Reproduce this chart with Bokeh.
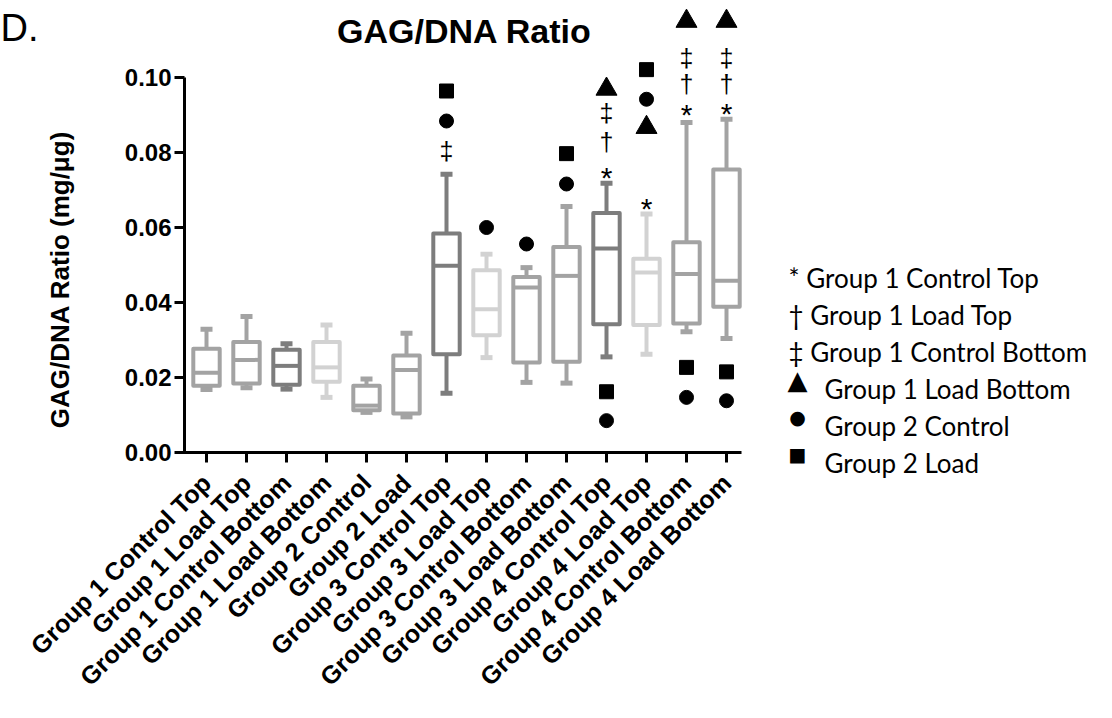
import math
from bokeh.plotting import figure
from bokeh.models import FixedTicker, Label, ColumnDataSource
from bokeh.transform import dodge
from bokeh.core.properties import value
from bokeh.embed import file_html
from bokeh.resources import INLINE

# ---------------- data ----------------
categories = ["Group 1 Control Top", "Group 1 Load Top", "Group 1 Control Bottom",
              "Group 1 Load Bottom", "Group 2 Control", "Group 2 Load",
              "Group 3 Control Top", "Group 3 Load Top", "Group 3 Control Bottom",
              "Group 3 Load Bottom", "Group 4 Control Top", "Group 4 Load Top",
              "Group 4 Control Bottom", "Group 4 Load Bottom"]
whisker_low = [0.0168, 0.0173, 0.0169, 0.0147, 0.0107, 0.0095, 0.0158,
               0.0253, 0.0187, 0.0185, 0.0255, 0.0262, 0.0322, 0.0304]
q1 = [0.0178, 0.0184, 0.0181, 0.0189, 0.0113, 0.0104, 0.0262,
      0.0313, 0.0240, 0.0242, 0.0342, 0.0340, 0.0344, 0.0389]
median = [0.0213, 0.0247, 0.0231, 0.0227, 0.0125, 0.0220, 0.0498,
          0.0382, 0.0440, 0.0471, 0.0544, 0.0480, 0.0476, 0.0458]
q3 = [0.0277, 0.0295, 0.0274, 0.0295, 0.0178, 0.0259, 0.0584,
      0.0486, 0.0468, 0.0548, 0.0639, 0.0517, 0.0561, 0.0755]
whisker_high = [0.0329, 0.0363, 0.0290, 0.0340, 0.0196, 0.0318, 0.0742,
                0.0529, 0.0493, 0.0656, 0.0718, 0.0636, 0.0880, 0.0889]
shade = ["mid", "mid", "dark", "light", "mid", "mid", "dark",
         "light", "mid", "mid", "dark", "light", "mid", "mid"]
shade_colors = {"dark": "#7d7d7d", "mid": "#a3a3a3", "light": "#d2d2d2"}

# significance markers (category number, value)
star_cat = [11, 12, 13, 14]
star_val = [0.0754, 0.0671, 0.0922, 0.0925]
dagger_cat = [11, 13, 14]
dagger_val = [0.0831, 0.0986, 0.0986]
ddagger_cat = [7, 11, 13, 14]
ddagger_val = [0.0806, 0.0907, 0.1056, 0.1056]
tri_cat = [11, 12, 13, 14]
tri_val = [0.0969, 0.0867, 0.1150, 0.1150]
circ_cat = [7, 8, 9, 10, 11, 12, 13, 14]
circ_val = [0.0884, 0.0600, 0.0556, 0.0716, 0.0085, 0.0942, 0.0147, 0.0138]
sq_cat = [7, 10, 11, 12, 13, 14]
sq_val = [0.0964, 0.0797, 0.0162, 0.1021, 0.0227, 0.0215]

y_ticks = [0.0, 0.02, 0.04, 0.06, 0.08, 0.10]
y_tick_labels = ["0.00", "0.02", "0.04", "0.06", "0.08", "0.10"]

legend_texts = ["* Group 1 Control Top", "\u2020 Group 1 Load Top",
                "\u2021 Group 1 Control Bottom", "Group 1 Load Bottom",
                "Group 2 Control", "Group 2 Load"]
legend_icons = ["", "", "", "\u25B2", "\u25CF", "\u25A0"]

# ---------------- layout (canvas pixels) ----------------
W, H = 1096, 702
AXIS_X_PX = 184.0     # y-axis line
AXIS_END_PX = 741.0   # right end of x-axis line
ZERO_PY = 452.0       # y = 0
PX_PER_CAT = 40.0
PX_PER_UNIT = 3750.0
FIRST_CAT_PX = 206.0


def X(px):  # canvas px -> data x
    return 1 + (px - FIRST_CAT_PX) / PX_PER_CAT


def Y(py):  # canvas px -> data y
    return (ZERO_PY - py) / PX_PER_UNIT


p = figure(width=W, height=H, x_range=(X(0), X(W)), y_range=(Y(H), Y(0)),
           output_backend="svg", toolbar_location=None, tools="", title=None,
           min_border_left=0, min_border_right=0, min_border_top=0, min_border_bottom=0)
p.background_fill_color = "white"
p.border_fill_color = "white"
p.outline_line_color = None
p.xgrid.visible = False
p.ygrid.visible = False

# axes (library axes, pinned at the data origin)
p.yaxis.fixed_location = X(AXIS_X_PX)
p.xaxis.fixed_location = 0.0
p.yaxis.ticker = FixedTicker(ticks=y_ticks)
p.yaxis.major_label_overrides = {t: l for t, l in zip(y_ticks, y_tick_labels)}
p.xaxis.ticker = FixedTicker(ticks=list(range(1, len(categories) + 1)))
p.xaxis.major_label_overrides = {i + 1: c for i, c in enumerate(categories)}
p.xaxis.major_label_orientation = math.radians(45)
for ax in (p.xaxis, p.yaxis):
    ax.axis_line_color = None
    ax.major_tick_line_width = 3
    ax.major_tick_line_color = "black"
    ax.major_tick_out = 10
    ax.major_tick_in = 0
    ax.minor_tick_line_color = None
    ax.major_label_text_font = "Liberation Sans"
    ax.major_label_text_font_style = "bold"
    ax.major_label_text_color = "black"
p.xaxis.major_label_text_font_size = "25px"
p.xaxis.major_label_standoff = 16
p.yaxis.major_label_text_font_size = "24px"
p.yaxis.major_label_standoff = 3

# axis lines: y from 0 to 0.10, x across the categories
p.segment(x0=[X(AXIS_X_PX)], y0=[0], x1=[X(AXIS_X_PX)], y1=[y_ticks[-1]],
          line_width=3, line_color="black")
p.segment(x0=[X(AXIS_X_PX - 1.5)], y0=[0], x1=[X(AXIS_END_PX)], y1=[0],
          line_width=3, line_color="black")

# boxes
src = ColumnDataSource(dict(
    x=list(range(1, len(categories) + 1)), lo=whisker_low, q1=q1, med=median,
    q3=q3, hi=whisker_high, color=[shade_colors[s] for s in shade]))
p.segment(x0="x", y0="q3", x1="x", y1="hi", line_color="color", line_width=4, source=src)
p.segment(x0="x", y0="lo", x1="x", y1="q1", line_color="color", line_width=4, source=src)
p.segment(x0=dodge("x", -0.15), y0="hi", x1=dodge("x", 0.15), y1="hi",
          line_color="color", line_width=5, source=src)
p.segment(x0=dodge("x", -0.15), y0="lo", x1=dodge("x", 0.15), y1="lo",
          line_color="color", line_width=5, source=src)
p.vbar(x="x", width=0.66, top="q3", bottom="q1", fill_color="white",
       line_color="color", line_width=4, line_join="round", source=src)
p.segment(x0=dodge("x", -0.33), y0="med", x1=dodge("x", 0.33), y1="med",
          line_color="color", line_width=4, source=src)

# significance markers
p.scatter(x=tri_cat, y=tri_val, marker="triangle", size=21, color="black")
p.scatter(x=circ_cat, y=circ_val, marker="circle", size=14, color="black")
p.scatter(x=sq_cat, y=sq_val, marker="square", size=14, color="black")
p.text(x=star_cat, y=star_val, text=["*"] * len(star_cat), text_font=value("Liberation Sans"),
       text_font_size="30px", text_align="center", text_baseline="middle",
       y_offset=8, text_color="black")
p.text(x=dagger_cat, y=dagger_val, text=["\u2020"] * len(dagger_cat),
       text_font=value("Liberation Sans"), text_font_size="25px",
       text_align="center", text_baseline="middle", y_offset=1, text_color="black")
p.text(x=ddagger_cat, y=ddagger_val, text=["\u2021"] * len(ddagger_cat),
       text_font=value("Liberation Sans"), text_font_size="25px",
       text_align="center", text_baseline="middle", y_offset=1, text_color="black")

# title, panel letter, y-axis label
p.add_layout(Label(x=X(464), y=Y(30), text="GAG/DNA Ratio", text_font="Liberation Sans",
                   text_font_style="bold", text_font_size="34px", text_align="center",
                   text_baseline="alphabetic", text_color="black"))
p.add_layout(Label(x=X(0), y=Y(27), text="D.", text_font="Liberation Sans",
                   text_font_size="38px", text_align="left",
                   text_baseline="alphabetic", text_color="black"))
p.add_layout(Label(x=X(59), y=Y(279), text="GAG/DNA Ratio (mg/\u03BCg)",
                   text_font="Liberation Sans", text_font_style="bold",
                   text_font_size="26px", text_align="center", text_baseline="middle",
                   angle=math.pi / 2, text_color="black"))

# legend
leg_baseline0 = 277
leg_step = 37
for i, (t, ic) in enumerate(zip(legend_texts, legend_icons)):
    base = leg_baseline0 + i * leg_step
    if ic == "":
        p.add_layout(Label(x=X(788), y=Y(base), text=t, text_font="Lato",
                           text_font_size="26px", text_baseline="alphabetic",
                           text_align="left", text_color="black"))
    else:
        size = "26px" if ic == "\u25B2" else "19px"
        p.add_layout(Label(x=X(797), y=Y(base - 9), text=ic, text_font="DejaVu Sans",
                           text_font_size=size, text_baseline="middle",
                           text_align="center", text_color="black"))
        p.add_layout(Label(x=X(824), y=Y(base), text=t, text_font="Lato",
                           text_font_size="26px", text_baseline="alphabetic",
                           text_align="left", text_color="black"))

open("out.html", "w").write(file_html(p, INLINE))
